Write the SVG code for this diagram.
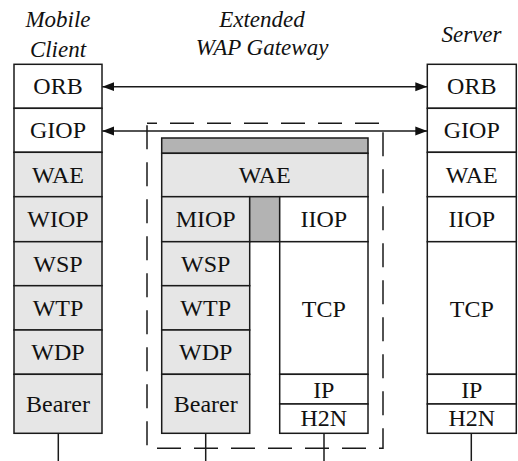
<svg xmlns="http://www.w3.org/2000/svg" width="518" height="461" viewBox="0 0 518 461">
<style>
.t{font-size:24px;fill:#111;text-anchor:middle}
.ti{font-size:23px;font-style:italic;fill:#111;text-anchor:middle}
.w{fill:#fff;stroke:#1a1a1a;stroke-width:1.5}
.g{fill:#e6e6e6;stroke:#1a1a1a;stroke-width:1.5}
.d{fill:#b3b3b3;stroke:#1a1a1a;stroke-width:1.5}
.ln{stroke:#1a1a1a;stroke-width:1.5;fill:none}
</style>
<defs>
<marker id="ah" markerUnits="userSpaceOnUse" markerWidth="13" markerHeight="10" refX="12" refY="5" orient="auto-start-reverse">
<path d="M0,0.5 L12,5 L0,9.5 Z" fill="#111"/>
</marker>
</defs>
<rect width="518" height="461" fill="#fff"/>
<g font-family="Liberation Serif, Times New Roman, serif">
<g id="titles">
<text class="ti" x="58" y="27">Mobile</text>
<text class="ti" x="58" y="57">Client</text>
<text class="ti" x="262" y="27">Extended</text>
<text class="ti" x="262" y="55">WAP Gateway</text>
<text class="ti" x="471.5" y="42">Server</text>
</g>

<g id="gateway-boundary">
<path class="ln" d="M147,123.3 H383 V448.3 H147 Z" stroke-dasharray="24 13" stroke-dashoffset="14"/>
</g>

<g id="mobile-client">
<rect class="w" x="14" y="64.3" width="88" height="44"/><text class="t" x="58" y="94.3">ORB</text>
<rect class="w" x="14" y="108.3" width="88" height="44"/><text class="t" x="58" y="138.3">GIOP</text>
<rect class="g" x="14" y="152.3" width="88" height="44.4"/><text class="t" x="58" y="182.5">WAE</text>
<rect class="g" x="14" y="196.7" width="88" height="45"/><text class="t" x="58" y="227.3">WIOP</text>
<rect class="g" x="14" y="241.7" width="88" height="44"/><text class="t" x="58" y="271.5">WSP</text>
<rect class="g" x="14" y="285.7" width="88" height="44.3"/><text class="t" x="58" y="315.5">WTP</text>
<rect class="g" x="14" y="330" width="88" height="44.3"/><text class="t" x="58" y="360">WDP</text>
<rect class="g" x="14" y="374.3" width="88" height="59"/><text class="t" x="58" y="412">Bearer</text>
</g>

<g id="gateway">
<rect class="d" x="161.7" y="138" width="206.3" height="15.3"/>
<rect class="g" x="161.7" y="153.3" width="206.3" height="43.4"/><text class="t" x="264.8" y="182.5">WAE</text>
<rect class="g" x="161.7" y="196.7" width="88" height="45"/><text class="t" x="205.7" y="227.3">MIOP</text>
<rect class="d" x="249.7" y="196.7" width="30" height="45"/>
<rect class="w" x="279.7" y="196.7" width="88.3" height="45"/><text class="t" x="323.8" y="227.3">IIOP</text>
<rect class="g" x="161.7" y="241.7" width="88" height="44"/><text class="t" x="205.7" y="271.5">WSP</text>
<rect class="g" x="161.7" y="285.7" width="88" height="44.3"/><text class="t" x="205.7" y="315.5">WTP</text>
<rect class="g" x="161.7" y="330" width="88" height="44.3"/><text class="t" x="205.7" y="360">WDP</text>
<rect class="g" x="161.7" y="374.3" width="88" height="59"/><text class="t" x="205.7" y="412">Bearer</text>
<rect class="w" x="279.7" y="241.7" width="88.3" height="132.6"/><text class="t" x="323.8" y="316.5">TCP</text>
<rect class="w" x="279.7" y="374.3" width="88.3" height="29.7"/><text class="t" x="323.8" y="397.5">IP</text>
<rect class="w" x="279.7" y="404" width="88.3" height="29.3"/><text class="t" x="323.8" y="426">H2N</text>
</g>

<g id="server">
<rect class="w" x="427.3" y="64.3" width="89" height="44"/><text class="t" x="471.8" y="94.3">ORB</text>
<rect class="w" x="427.3" y="108.3" width="89" height="44"/><text class="t" x="471.8" y="138.3">GIOP</text>
<rect class="w" x="427.3" y="152.3" width="89" height="44.4"/><text class="t" x="471.8" y="182.5">WAE</text>
<rect class="w" x="427.3" y="196.7" width="89" height="45"/><text class="t" x="471.8" y="227.3">IIOP</text>
<rect class="w" x="427.3" y="241.7" width="89" height="132.6"/><text class="t" x="471.8" y="316.5">TCP</text>
<rect class="w" x="427.3" y="374.3" width="89" height="29.7"/><text class="t" x="471.8" y="397.5">IP</text>
<rect class="w" x="427.3" y="404" width="89" height="29.3"/><text class="t" x="471.8" y="426">H2N</text>
</g>

<g id="connectors">
<line class="ln" x1="102.3" y1="86.7" x2="427.3" y2="86.7" marker-start="url(#ah)" marker-end="url(#ah)"/>
<line class="ln" x1="102.3" y1="131" x2="427.3" y2="131" marker-start="url(#ah)" marker-end="url(#ah)"/>
<line class="ln" x1="58.3" y1="433.3" x2="58.3" y2="461"/>
<line class="ln" x1="205.7" y1="433.3" x2="205.7" y2="461"/>
<line class="ln" x1="324" y1="433.3" x2="324" y2="461"/>
<line class="ln" x1="471.3" y1="433.3" x2="471.3" y2="461"/>
</g>
</g>
</svg>
